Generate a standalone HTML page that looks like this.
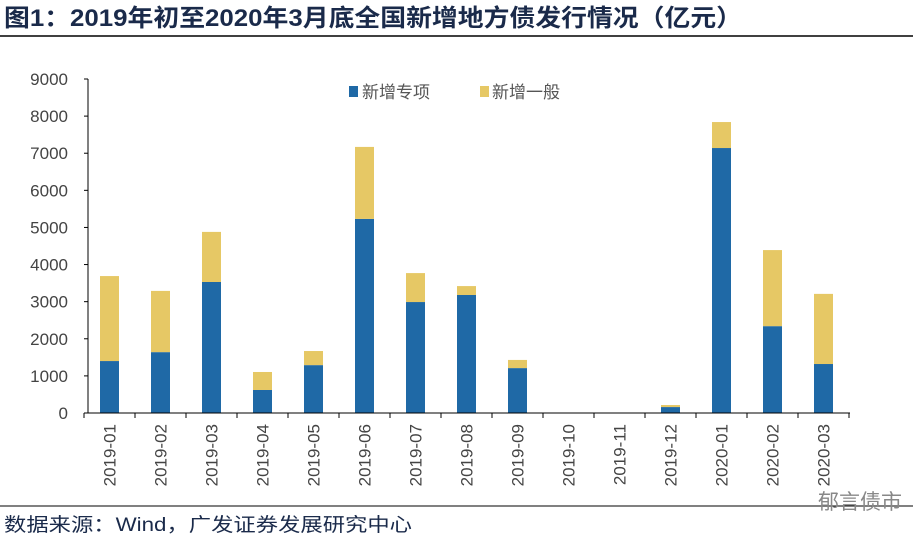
<!DOCTYPE html>
<html><head><meta charset="utf-8"><style>
body{margin:0;background:#fff;width:913px;height:542px;overflow:hidden}
svg text{font-family:"Liberation Sans","Noto Sans CJK SC",sans-serif}
</style></head><body>
<svg width="913" height="542" xmlns="http://www.w3.org/2000/svg">
<text x="4" y="26" font-size="24" font-weight="bold" fill="#1a2a4a" textLength="738" lengthAdjust="spacingAndGlyphs">图1：2019年初至2020年3月底全国新增地方债发行情况（亿元）</text>
<line x1="0" y1="36" x2="913" y2="36" stroke="#000" stroke-width="1.5"/>
<line x1="0" y1="506" x2="913" y2="506" stroke="#000" stroke-width="1"/>
<text x="4" y="531" font-size="19" fill="#1a2a4a" textLength="408" lengthAdjust="spacingAndGlyphs">数据来源：Wind，广发证券发展研究中心</text>
<text x="818" y="509" font-size="21" fill="#888">郁言债市</text>
<g id="legend">
<rect x="349" y="86" width="9" height="11" fill="#1f69a6"/>
<text x="362" y="98" font-size="17" fill="#555">新增专项</text>
<rect x="480" y="86" width="9" height="11" fill="#e6c865"/>
<text x="492" y="98" font-size="17" fill="#555">新增一般</text>
</g>
<g id="plot"></g>
</svg>
<script>
const categories=["2019-01","2019-02","2019-03","2019-04","2019-05","2019-06","2019-07","2019-08","2019-09","2019-10","2019-11","2019-12","2020-01","2020-02","2020-03"];
const specialValues=[1400,1640,3530,620,1290,5230,2990,3180,1210,0,0,160,7140,2340,1320];
const generalValues=[2290,1650,1350,485,380,1940,780,240,220,0,0,55,700,2050,1890];
const yTicks=[0,1000,2000,3000,4000,5000,6000,7000,8000,9000];
const NS="http://www.w3.org/2000/svg";
const g=document.getElementById('plot');
const x0=84,step=51,y0=413,pxPer=(413-79)/9000,barW=19;
const yS=v=>y0-v*pxPer;
const xC=i=>x0+step*(i+0.5);
function mk(t,a){const e=document.createElementNS(NS,t);for(const k in a)e.setAttribute(k,a[k]);g.appendChild(e);return e;}
let e=mk('line',{x1:88,y1:79,x2:88,y2:413,stroke:'#000'});


yTicks.forEach(v=>{
 let t=mk('line',{x1:84,x2:88,y1:yS(v),y2:yS(v),stroke:'#000'});
 
 
 let l=mk('text',{x:68,y:yS(v)+6,'font-size':17,fill:'#444','text-anchor':'end'});l.textContent=v;
 
 
});
categories.forEach((c,i)=>{
 const cx=xC(i);
 let b=mk('rect',{x:cx-barW/2,y:yS(specialValues[i]),width:barW,height:specialValues[i]*pxPer,fill:'#1f69a6'});
 
 
 let b2=mk('rect',{x:cx-barW/2,y:yS(specialValues[i]+generalValues[i]),width:barW,height:generalValues[i]*pxPer,fill:'#e6c865'});
 
 
 let t=mk('line',{x1:x0+step*i,x2:x0+step*i,y1:413,y2:418,stroke:'#000'});
 
 
 let l=mk('text',{x:0,y:0,'font-size':17,fill:'#444','text-anchor':'end',transform:`translate(${cx+6},424) rotate(-90)`});l.textContent=c;
 
 
});
let t=mk('line',{x1:x0+step*15,x2:x0+step*15,y1:413,y2:418,stroke:'#000'});


e=mk('line',{x1:84,y1:413,x2:850,y2:413,stroke:'#000'});


</script>
</body></html>
